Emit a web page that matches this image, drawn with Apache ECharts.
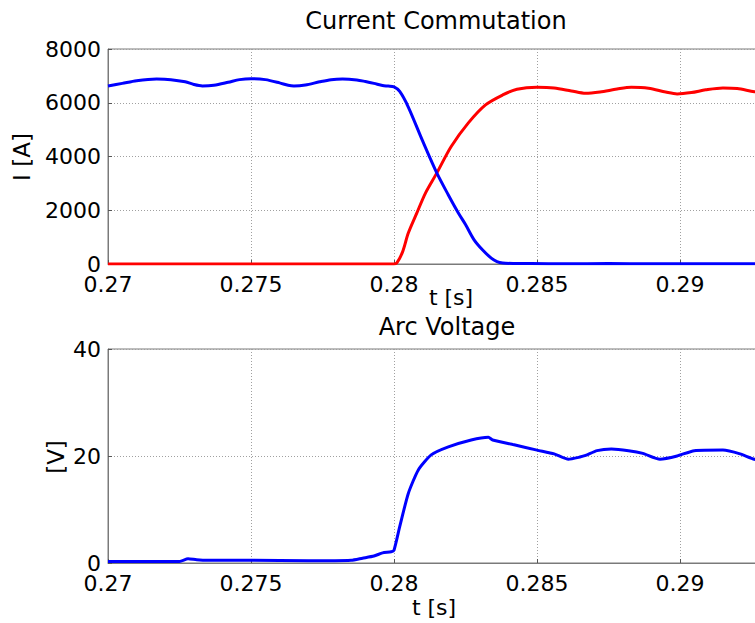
<!DOCTYPE html>
<html>
<head>
<meta charset="utf-8">
<script src="https://cdn.jsdelivr.net/npm/echarts@6/dist/echarts.min.js"></script>
<style>
  html, body { margin: 0; padding: 0; background: #fff; }
  #chart { width: 755px; height: 623px; }
</style>
</head>
<body>
<div id="chart"></div>
<script>
// time axis [s]
const tTickMin = 0.27
const tTickMax = 0.295
const tTickStep = 0.005

// current through the first path (blue)
const tBlue = [0.2700, 0.2705, 0.2710, 0.2717, 0.2722, 0.2727, 0.2730, 0.2733, 0.2737, 0.2742,
  0.2746, 0.2750, 0.2755, 0.2760, 0.2763, 0.2765, 0.2769, 0.2774, 0.2778, 0.2782,
  0.2787, 0.2790, 0.2793, 0.2796, 0.2798, 0.2800, 0.2802, 0.2805, 0.2810, 0.2815,
  0.2819, 0.28225, 0.2825, 0.2828, 0.2831, 0.2834, 0.2836, 0.2838, 0.2842, 0.2848,
  0.2860, 0.2875, 0.2890, 0.2905, 0.2920, 0.2935]
const iBlue = [6620, 6720, 6820, 6880, 6860, 6780, 6680, 6625, 6650, 6760,
  6860, 6895, 6860, 6740, 6650, 6625, 6660, 6780, 6860, 6885,
  6850, 6790, 6720, 6640, 6620, 6590, 6420, 5840, 4580, 3380,
  2570, 1900, 1470, 900, 520, 220, 90, 37, 18, 14,
  12, 15, 10, 13, 11, 10]

// current through the second path (red)
const tRed = [0.2700, 0.2800, 0.2801, 0.2803, 0.2805, 0.2808, 0.2811, 0.2815, 0.2820, 0.2826,
  0.2832, 0.2838, 0.2843, 0.2850, 0.2856, 0.2862, 0.2867, 0.2872, 0.2878, 0.2883,
  0.2889, 0.2895, 0.2899, 0.2904, 0.2909, 0.2915, 0.2920, 0.2926, 0.2935]
const iRed = [0, 0, 40, 450, 1150, 1900, 2640, 3390, 4370, 5250,
  5920, 6290, 6500, 6575, 6550, 6440, 6350, 6400, 6510, 6575,
  6540, 6400, 6330, 6380, 6480, 6550, 6530, 6410, 6300]

// arc voltage
const tArc = [0.2700, 0.2715, 0.2725, 0.2728, 0.2731, 0.2735, 0.2750, 0.2770, 0.2785, 0.2789,
  0.2793, 0.2796, 0.2799, 0.2800, 0.2802, 0.2805, 0.28085, 0.2813, 0.2819, 0.2827,
  0.2833, 0.28345, 0.2842, 0.2850, 0.2856, 0.2861, 0.2865, 0.2867, 0.2871, 0.2876,
  0.2882, 0.2887, 0.2893, 0.2899, 0.2905, 0.2915, 0.2921, 0.2926, 0.2935]
const uArc = [0.3, 0.3, 0.3, 0.8, 0.6, 0.5, 0.5, 0.4, 0.5, 0.9,
  1.3, 1.9, 2.1, 2.4, 6.8, 13.0, 17.4, 20.2, 21.7, 23.0,
  23.5, 23.0, 22.1, 21.1, 20.4, 19.4, 19.8, 20.1, 21.0, 21.3,
  21.0, 20.5, 19.4, 20.0, 21.0, 21.1, 20.4, 19.4, 18.6]

const pairs = (xs, ys) => xs.map((x, i) => [x, ys[i]])

const fontFamily = 'DejaVu Sans'
const txt = { fontFamily: fontFamily, fontSize: 22, color: '#000' }

const xAxisBase = (gridIndex) => ({
  type: 'value',
  gridIndex: gridIndex,
  min: tTickMin,
  max: tTickMax,
  interval: tTickStep,
  axisLine: { show: true, onZero: false, lineStyle: { color: '#7a7a7a', width: 1 } },
  axisTick: { show: true, inside: true, length: 4, lineStyle: { color: '#555' } },
  axisLabel: Object.assign({ margin: 9, showMaxLabel: false,
    formatter: (v) => String(+v.toFixed(3)) }, txt),
  splitLine: { show: true, lineStyle: { color: '#a0a0a0', type: [1, 2], width: 1 } }
})

const yAxisBase = (gridIndex, max, step) => ({
  type: 'value',
  gridIndex: gridIndex,
  min: 0,
  max: max,
  interval: step,
  axisLine: { show: true, lineStyle: { color: '#7a7a7a', width: 1 } },
  axisTick: { show: true, inside: true, length: 4, lineStyle: { color: '#555' } },
  axisLabel: Object.assign({ margin: 7, formatter: (v) => String(v) }, txt),
  splitLine: { show: true, lineStyle: { color: '#a0a0a0', type: [1, 2], width: 1 } }
})

const label = (text, x, y, size, rotate) => ({
  type: 'text',
  x: x,
  y: y,
  rotation: rotate ? Math.PI / 2 : 0,
  style: { text: text, fill: '#000', font: size + 'px "DejaVu Sans"', align: 'center', verticalAlign: 'middle' }
})

const chart = echarts.init(document.getElementById('chart'), null, { renderer: 'svg' })

chart.setOption({
  animation: false,
  backgroundColor: '#fff',
  grid: [
    { left: 108, top: 49, width: 715, height: 215, show: true, borderColor: '#7a7a7a', borderWidth: 1, outerBoundsMode: 'none' },
    { left: 108, top: 349, width: 715, height: 214, show: true, borderColor: '#7a7a7a', borderWidth: 1, outerBoundsMode: 'none' }
  ],
  xAxis: [xAxisBase(0), xAxisBase(1)],
  yAxis: [yAxisBase(0, 8000, 2000), yAxisBase(1, 40, 20)],
  graphic: [
    label('Current Commutation', 436, 21, 24),
    label('Arc Voltage', 447, 327, 24),
    label('t [s]', 451, 297, 22),
    label('t [s]', 434, 607, 22),
    label('I [A]', 22, 157, 23, true),
    label('[V]', 56, 457, 23, true)
  ],
  series: [
    {
      type: 'line', xAxisIndex: 0, yAxisIndex: 0,
      data: pairs(tRed, iRed),
      showSymbol: false, smooth: 0.3,
      lineStyle: { color: '#ff0000', width: 3 }
    },
    {
      type: 'line', xAxisIndex: 0, yAxisIndex: 0,
      data: pairs(tBlue, iBlue),
      showSymbol: false, smooth: 0.3,
      lineStyle: { color: '#0000ff', width: 3 }
    },
    {
      type: 'line', xAxisIndex: 1, yAxisIndex: 1,
      data: pairs(tArc, uArc),
      showSymbol: false, smooth: 0.2,
      lineStyle: { color: '#0000ff', width: 3 }
    }
  ]
})
</script>
</body>
</html>
